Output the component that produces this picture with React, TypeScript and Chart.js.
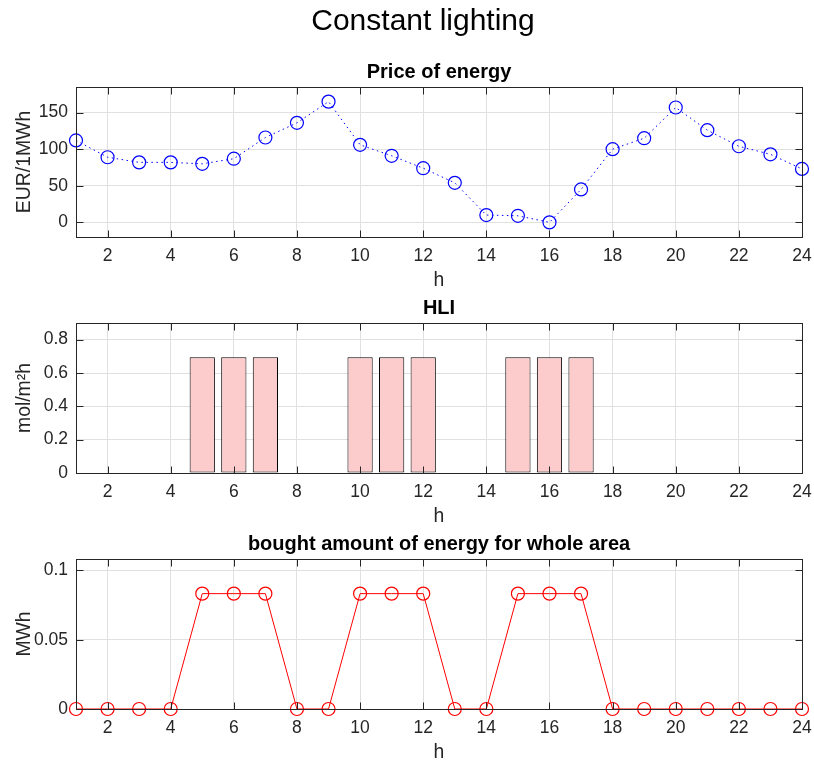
import React, { useEffect, useRef } from "react";
import { Chart, registerables } from "chart.js";

Chart.register(...registerables);

const hours = [1, 2, 3, 4, 5, 6, 7, 8, 9, 10, 11, 12, 13, 14, 15, 16, 17, 18, 19, 20, 21, 22, 23, 24];
const price = [112, 89, 82, 82, 80, 87, 116, 136, 165, 106, 91, 74, 54, 10, 9, 0, 45, 100, 115, 157, 126, 104, 93, 73];
const hli = [0, 0, 0, 0, 0.694, 0.694, 0.694, 0, 0, 0.694, 0.694, 0.694, 0, 0, 0.694, 0.694, 0.694, 0, 0, 0, 0, 0, 0, 0];
const energy = [0, 0, 0, 0, 0.0833, 0.0833, 0.0833, 0, 0, 0.0833, 0.0833, 0.0833, 0, 0, 0.0833, 0.0833, 0.0833, 0, 0, 0, 0, 0, 0, 0];

const xTicks = [2, 4, 6, 8, 10, 12, 14, 16, 18, 20, 22, 24];
const priceTicks = [0, 50, 100, 150];
const hliTicks = [0, 0.2, 0.4, 0.6, 0.8];
const energyTicks = [0, 0.05, 0.1];

const supTitle = "Constant lighting";
const titles = ["Price of energy", "HLI", "bought amount of energy for whole area"];
const yLabels = ["EUR/1MWh", "mol/m²h", "MWh"];
const xLabel = "h";

const FONT = "'Liberation Sans', Arial, Helvetica, sans-serif";
const AX = "#262626";
const GRID = "#e0e0e0";

const framePlugin = {
  id: "matlabFrame",
  afterDraw(chart: any, _args: any, opts: any) {
    const { ctx, chartArea: a, scales } = chart;
    const al = (v: number) => Math.round(v) + 0.5;
    ctx.save();
    ctx.strokeStyle = AX;
    ctx.lineWidth = 1;
    const L = al(a.left), R = al(a.right), T = al(a.top), B = al(a.bottom);
    ctx.strokeRect(L, T, R - L, B - T);
    const tl = 7;
    ctx.beginPath();
    for (const t of scales.x.ticks) {
      const px = al(scales.x.getPixelForValue(t.value));
      ctx.moveTo(px, B); ctx.lineTo(px, B - tl);
      ctx.moveTo(px, T); ctx.lineTo(px, T + tl);
    }
    for (const t of scales.y.ticks) {
      const py = al(scales.y.getPixelForValue(t.value));
      ctx.moveTo(L, py); ctx.lineTo(L + tl, py);
      ctx.moveTo(R, py); ctx.lineTo(R - tl, py);
    }
    ctx.stroke();
    ctx.fillStyle = "#000";
    ctx.textAlign = "center";
    ctx.textBaseline = "middle";
    if (opts && opts.title) {
      ctx.font = `bold 20px ${FONT}`;
      ctx.fillText(opts.title, (a.left + a.right) / 2, a.top - 15);
    }
    if (opts && opts.supTitle) {
      ctx.font = `30px ${FONT}`;
      ctx.fillText(opts.supTitle, 423, 22);
    }
    ctx.restore();
  },
};

function fmt(v: number) {
  return String(Math.round(v * 1000) / 1000);
}

function xScale() {
  return {
    type: "linear",
    min: 1,
    max: 24,
    offset: false,
    afterBuildTicks: (s: any) => { s.ticks = xTicks.map((v) => ({ value: v })); },
    grid: { color: GRID, drawTicks: false, offset: false },
    border: { display: false },
    ticks: { color: AX, font: { family: FONT, size: 17.5 }, padding: 8.5, maxRotation: 0, autoSkip: false, callback: (v: any) => fmt(v) },
    title: { display: true, text: xLabel, color: AX, font: { family: FONT, size: 19.4 }, padding: 0 },
    afterFit: (s: any) => { s.height = 55; s.paddingLeft = 0; s.paddingRight = 0; },
  };
}

function yScale(min: number, max: number, ticks: number[], label: string) {
  return {
    type: "linear",
    min,
    max,
    afterBuildTicks: (s: any) => { s.ticks = ticks.map((v) => ({ value: v })); },
    grid: { color: GRID, drawTicks: false },
    border: { display: false },
    ticks: { color: AX, font: { family: FONT, size: 17.5 }, padding: 8, autoSkip: false, callback: (v: any) => fmt(v) },
    title: { display: true, text: label, color: AX, font: { family: FONT, size: 19.4 }, padding: { top: 13, bottom: 0 } },
    afterFit: (s: any) => { s.width = 76; s.paddingTop = 0; s.paddingBottom = 0; },
  };
}

function baseOptions(idx: number, y: any) {
  return {
    responsive: false,
    animation: false,
    devicePixelRatio: 1,
    layout: { padding: { top: 87, bottom: 8, left: 0, right: 12 } },
    scales: { x: xScale(), y },
    plugins: {
      legend: { display: false },
      tooltip: { enabled: false },
      matlabFrame: { title: titles[idx], supTitle: idx === 0 ? supTitle : null },
    },
  };
}

function configs(): any[] {
  return [
    {
      type: "line",
      data: {
        datasets: [{
          data: hours.map((h, i) => ({ x: h, y: price[i] })),
          borderColor: "#0000ff",
          borderWidth: 1,
          borderDash: [1.5, 3.5],
          pointRadius: 6.5,
          pointBorderWidth: 1.2,
          pointBorderColor: "#0000ff",
          pointBackgroundColor: "rgba(0,0,0,0)",
          fill: false,
          clip: false,
        }],
      },
      options: baseOptions(0, yScale(-20, 185, priceTicks, yLabels[0])),
      plugins: [framePlugin],
    },
    {
      type: "bar",
      data: {
        datasets: [{
          data: hours.map((h, i) => ({ x: h, y: hli[i] })),
          backgroundColor: "#fccccc",
          borderColor: "#000000",
          borderWidth: 1,
          borderSkipped: false,
          barPercentage: 0.8,
          categoryPercentage: 1,
        }],
      },
      options: baseOptions(1, yScale(0, 0.9, hliTicks, yLabels[1])),
      plugins: [framePlugin],
    },
    {
      type: "line",
      data: {
        datasets: [{
          data: hours.map((h, i) => ({ x: h, y: energy[i] })),
          borderColor: "#ff0000",
          borderWidth: 1,
          pointRadius: 6.5,
          pointBorderWidth: 1.2,
          pointBorderColor: "#ff0000",
          pointBackgroundColor: "rgba(0,0,0,0)",
          fill: false,
          clip: false,
        }],
      },
      options: baseOptions(2, yScale(0, 0.1083, energyTicks, yLabels[2])),
      plugins: [framePlugin],
    },
  ];
}

export default function App() {
  const r0 = useRef<HTMLCanvasElement>(null);
  const r1 = useRef<HTMLCanvasElement>(null);
  const r2 = useRef<HTMLCanvasElement>(null);

  useEffect(() => {
    const refs = [r0, r1, r2];
    const cfgs = configs();
    const charts = refs.map((r, i) => new Chart(r.current as HTMLCanvasElement, cfgs[i]));
    return () => charts.forEach((c) => c.destroy());
  }, []);

  const cs = (i: number): React.CSSProperties => ({
    position: "absolute",
    left: 0,
    top: 236 * i,
    width: 814,
    height: 300,
  });

  return (
    <div style={{ position: "absolute", left: 0, top: 0, width: 814, height: 760, overflow: "hidden", background: "#fff" }}>
      <canvas ref={r0} width={814} height={300} style={cs(0)} />
      <canvas ref={r1} width={814} height={300} style={cs(1)} />
      <canvas ref={r2} width={814} height={300} style={cs(2)} />
    </div>
  );
}
